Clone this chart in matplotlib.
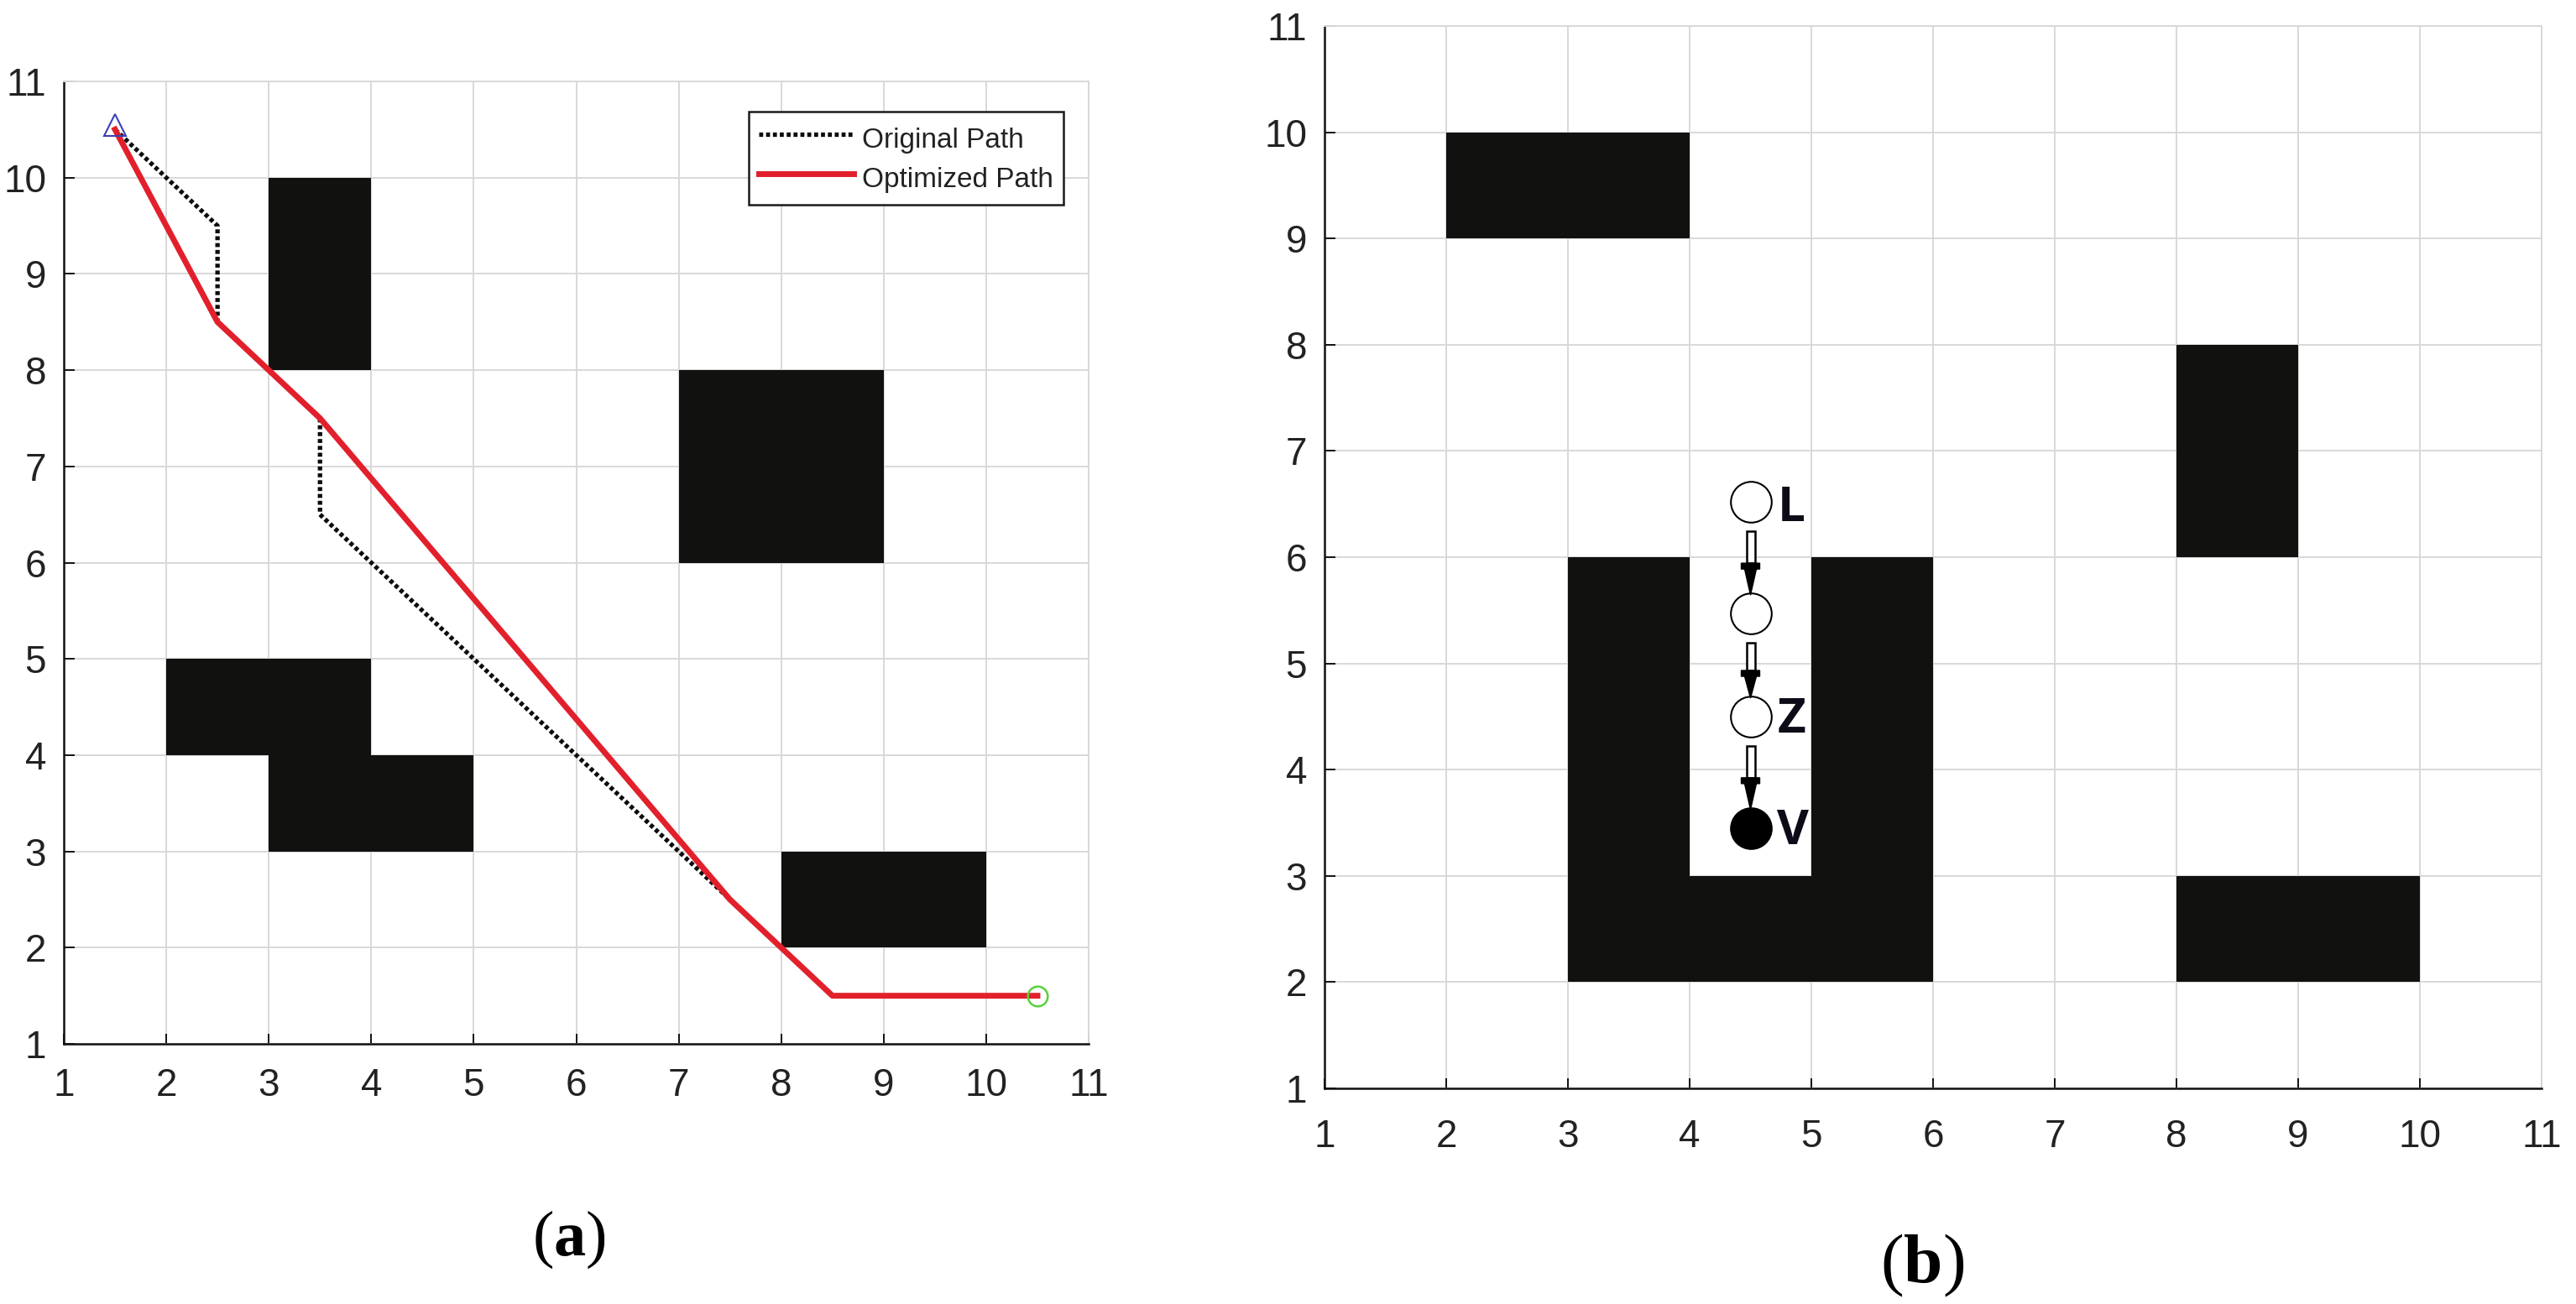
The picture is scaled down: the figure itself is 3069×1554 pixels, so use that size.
import matplotlib
matplotlib.use("Agg")
import matplotlib.pyplot as plt
from matplotlib.patches import Rectangle, Polygon

W, H = 3069, 1554
SANS = ['Liberation Sans', 'DejaVu Sans']
plt.rcParams['mathtext.fontset'] = 'custom'
plt.rcParams['mathtext.rm'] = 'Liberation Serif'
plt.rcParams['mathtext.bf'] = 'Liberation Serif:bold'

ticks = list(range(1, 12))

# Panel (a) data
a_obst_x = [3, 7, 2, 3, 8]
a_obst_y = [8, 6, 4, 3, 2]
a_obst_w = [1, 2, 2, 2, 2]
a_obst_h = [2, 2, 1, 1, 1]
orig_x = [1.5, 2.5, 2.5, 3, 3.5, 3.5, 7.5, 8.5, 10.5]
orig_y = [10.5, 9.5, 8.5, 8, 7.5, 6.5, 2.5, 1.5, 1.5]
opt_x = [1.5, 2.5, 3.5, 7.5, 8, 8.5, 10.5]
opt_y = [10.5, 8.5, 7.5, 2.5, 2, 1.5, 1.5]
series_names = ['Original Path', 'Optimized Path']

# Panel (b) data
b_obst_x = [2, 8, 3, 5, 3, 8]
b_obst_y = [9, 6, 2, 2, 2, 2]
b_obst_w = [2, 1, 1, 1, 3, 2]
b_obst_h = [1, 2, 4, 4, 1, 1]
node_x = [4.5, 4.5, 4.5, 4.5]
node_y = [6.52, 5.47, 4.5, 3.45]
node_fill = ['white', 'white', 'white', 'black']
label_text = ['L', 'Z', 'V']
label_x = [4.72, 4.72, 4.72]
label_y = [6.46, 4.47, 3.42]

OBST = '#111110'
GRID = '#d8d8d8'

fig = plt.figure(figsize=(W / 100, H / 100), dpi=100, facecolor='white')


def make_axes(l, r, t, b, xpad):
    ax = fig.add_axes([l / W, 1 - b / H, (r - l) / W, (b - t) / H])
    ax.set_xlim(1, 11)
    ax.set_ylim(1, 11)
    ax.set_xticks(ticks)
    ax.set_yticks(ticks)
    ax.grid(True, color=GRID, lw=1.4, zorder=0)
    ax.set_axisbelow(True)
    ax.tick_params(direction='in', length=9, width=1.4, color='#111111',
                   labelsize=33, top=False, right=False)
    ax.tick_params(axis='x', pad=xpad)
    ax.tick_params(axis='y', pad=15)
    for lab in ax.get_xticklabels() + ax.get_yticklabels():
        lab.set_family(SANS)
        lab.set_color('#222222')
    for s in ('top', 'right'):
        ax.spines[s].set_color(GRID)
        ax.spines[s].set_linewidth(1.4)
    for s in ('left', 'bottom'):
        ax.spines[s].set_color('#111111')
        ax.spines[s].set_linewidth(1.8)
    return ax


def draw_obstacles(ax, xs, ys, ws, hs):
    for x, y, w, h in zip(xs, ys, ws, hs):
        ax.add_patch(Rectangle((x, y), w, h, fc=OBST, ec=OBST, lw=0, zorder=2))


# ---------- panel a ----------
AL, AR, AT, AB = 76, 1297, 97, 1244
ax1 = make_axes(AL, AR, AT, AB, 20)
draw_obstacles(ax1, a_obst_x, a_obst_y, a_obst_w, a_obst_h)
dots = (0, (0.9, 0.65))
ax1.plot(orig_x, orig_y, color='#0c0c0c', lw=3.8, ls=dots, zorder=3, dash_capstyle='butt',
         label=series_names[0])
ax1.plot(opt_x, opt_y, color='#e2202c', lw=5.0, zorder=4, solid_joinstyle='round',
         label=series_names[1])
ax1.plot(orig_x[0], orig_y[0] + 0.05, marker='^', ms=19, mfc='none', mec='#3a3fb8', mew=1.5,
         zorder=5, clip_on=False)
ax1.plot(orig_x[-1], orig_y[-1], marker='o', ms=17, mfc='none', mec='#58d23c', mew=1.8,
         zorder=5, clip_on=False)
leg = ax1.legend(loc='upper left',
                 bbox_to_anchor=((892 - AL) / (AR - AL), 1 - (133 - AT) / (AB - AT)),
                 prop={'family': SANS, 'size': 24}, fancybox=False, framealpha=1,
                 edgecolor='#1a1a1a', handlelength=3.4, handleheight=1.45, handletextpad=0.3,
                 borderpad=0.36, labelspacing=0.22, borderaxespad=0, labelcolor='#222222')
leg.get_frame().set_linewidth(1.8)
leg.set_zorder(6)

# ---------- panel b ----------
BL, BR, BT, BB = 1578, 3028, 31, 1297
ax2 = make_axes(BL, BR, BT, BB, 26)
draw_obstacles(ax2, b_obst_x, b_obst_y, b_obst_w, b_obst_h)
ppx = (BR - BL) / 10.0    # pixels per data unit
ppy = (BB - BT) / 10.0
R = 25
for i, (x, y, fill) in enumerate(zip(node_x, node_y, node_fill)):
    ax2.plot(x, y, marker='o', ms=35, mfc=fill, mec='black', mew=1.5, zorder=6)
    if i < len(node_x) - 1:
        y0 = y - (R + 10) / ppy
        y2 = node_y[i + 1] + (R - 3) / ppy
        y1 = y0 - 0.5 * (y0 - y2)
        sw = 5 / ppx
        hw = 11 / ppx
        nw = 7 / ppx
        yb = y1 - 7 / ppy
        ax2.add_patch(Rectangle((x - sw, y1), 2 * sw, y0 - y1, fc='white', ec='black', lw=1.8, zorder=7))
        ax2.add_patch(Polygon([(x - hw, y1), (x + hw, y1), (x + hw, yb), (x + nw, yb), (x, y2),
                               (x - nw, yb), (x - hw, yb)], closed=True, fc='black',
                              ec='black', lw=1, zorder=7))
for t, x, y in zip(label_text, label_x, label_y):
    ax2.text(x, y, t, family=['Open Sans', 'DejaVu Sans'], fontweight='bold', fontsize=42,
             color='#0c0c18', va='center', ha='left', zorder=8)

# ---------- captions ----------
fig.text(678 / W, 1 - 1477 / H, r'($\mathbf{a}$)', fontsize=55, ha='center', va='center',
         family='Liberation Serif', color='black')
fig.text(2290 / W, 1 - 1508 / H, r'($\mathbf{b}$)', fontsize=60, ha='center', va='center',
         family='Liberation Serif', color='black')

fig.savefig('out.png', dpi=100, facecolor='white')
